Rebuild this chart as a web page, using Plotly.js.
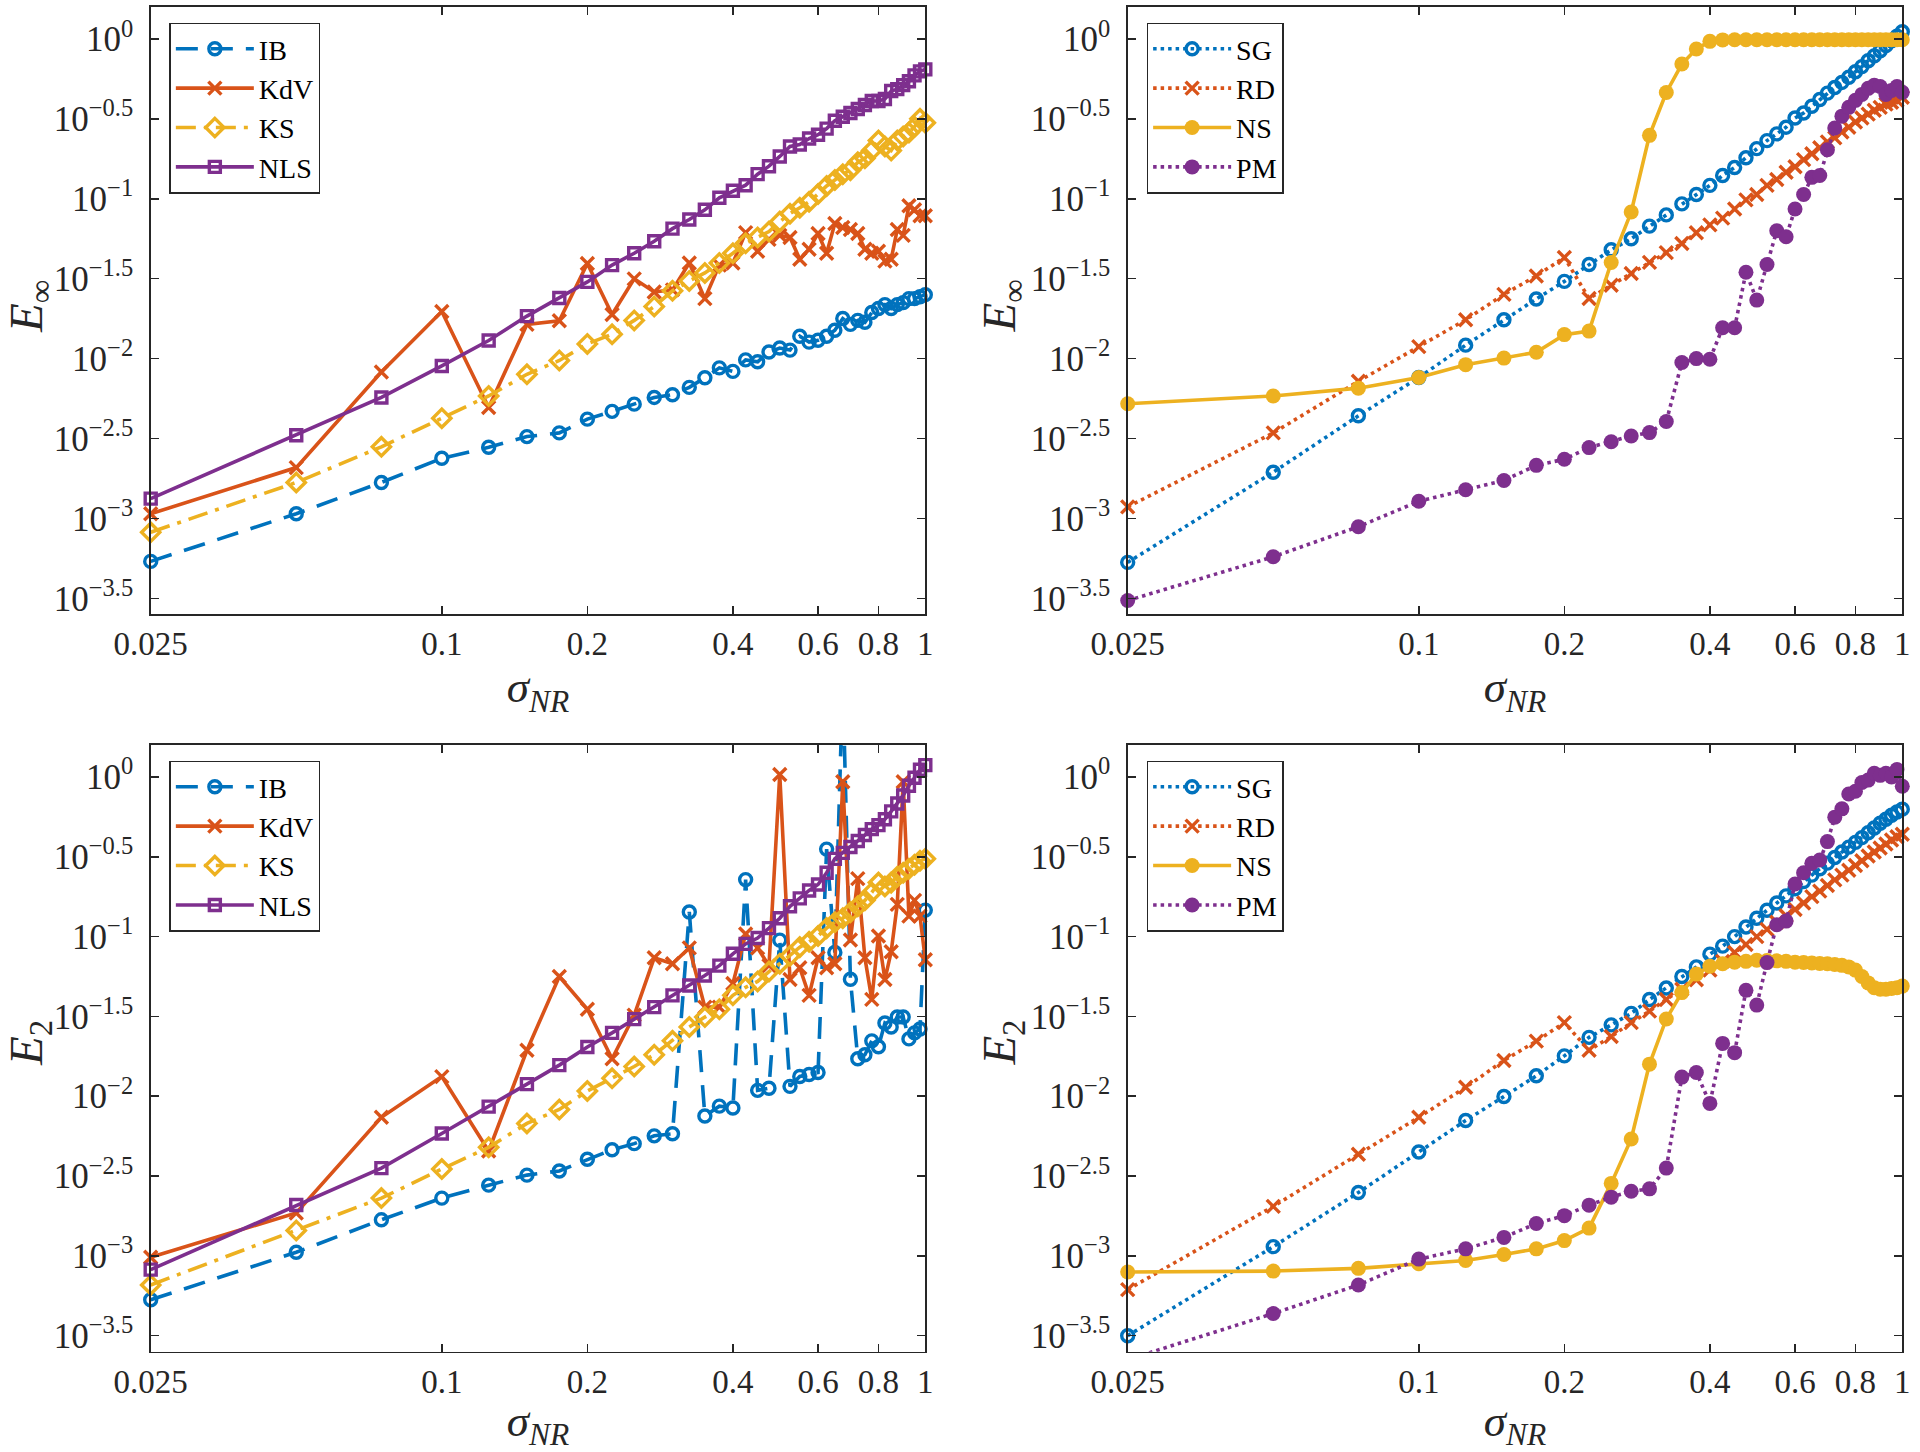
<!DOCTYPE html>
<html>
<head>
<meta charset="utf-8">
<script src="https://cdn.plot.ly/plotly-3.0.1.min.js"></script>
<style>html,body{margin:0;padding:0;background:#fff;}#chart{width:1920px;height:1452px;}</style>
</head>
<body>
<div id="chart"></div>
<script>
// sigma_NR values (x)
const sigmaNR = [0.025,0.05,0.075,0.1,0.125,0.15,0.175,0.2,0.225,0.25,0.275,0.3,0.325,0.35,0.375,0.4,0.425,0.45,0.475,0.5,0.525,0.55,0.575,0.6,0.625,0.65,0.675,0.7,0.725,0.75,0.775,0.8,0.825,0.85,0.875,0.9,0.925,0.95,0.975,1];

// log10 of the errors
// E_inf, left panel
const logEinf_IB  = [-3.269,-2.971,-2.775,-2.624,-2.555,-2.488,-2.465,-2.379,-2.33,-2.285,-2.243,-2.226,-2.18,-2.12,-2.058,-2.08,-2.008,-2.02,-1.959,-1.934,-1.947,-1.86,-1.897,-1.885,-1.86,-1.823,-1.749,-1.786,-1.761,-1.773,-1.712,-1.687,-1.662,-1.687,-1.662,-1.65,-1.625,-1.625,-1.613,-1.60];
const logEinf_KdV = [-2.971,-2.682,-2.084,-1.705,-2.306,-1.786,-1.763,-1.405,-1.724,-1.501,-1.583,-1.57,-1.402,-1.625,-1.415,-1.402,-1.212,-1.328,-1.254,-1.229,-1.242,-1.378,-1.316,-1.217,-1.341,-1.155,-1.18,-1.192,-1.217,-1.316,-1.341,-1.328,-1.39,-1.378,-1.192,-1.229,-1.044,-1.069,-1.106,-1.106];
const logEinf_KS  = [-3.087,-2.775,-2.552,-2.373,-2.234,-2.098,-2.012,-1.908,-1.848,-1.761,-1.674,-1.576,-1.514,-1.464,-1.402,-1.341,-1.279,-1.242,-1.205,-1.143,-1.093,-1.056,-1.019,-0.97,-0.92,-0.883,-0.846,-0.821,-0.772,-0.747,-0.698,-0.636,-0.673,-0.698,-0.636,-0.611,-0.586,-0.549,-0.5,-0.524];
const logEinf_NLS = [-2.876,-2.48,-2.243,-2.046,-1.887,-1.734,-1.621,-1.52,-1.415,-1.341,-1.266,-1.187,-1.13,-1.069,-0.994,-0.95,-0.915,-0.846,-0.796,-0.735,-0.673,-0.66,-0.623,-0.599,-0.561,-0.512,-0.487,-0.463,-0.438,-0.413,-0.388,-0.388,-0.376,-0.326,-0.314,-0.289,-0.265,-0.228,-0.203,-0.19];
// E_inf, right panel
const logEinf_SG  = [-3.275,-2.711,-2.358,-2.118,-1.916,-1.757,-1.627,-1.517,-1.411,-1.319,-1.25,-1.171,-1.101,-1.032,-0.973,-0.916,-0.854,-0.804,-0.743,-0.686,-0.636,-0.594,-0.552,-0.495,-0.463,-0.421,-0.379,-0.339,-0.304,-0.272,-0.24,-0.205,-0.173,-0.136,-0.106,-0.074,-0.042,-0.012,0.017,0.045];
const logEinf_RD  = [-2.928,-2.465,-2.142,-1.925,-1.757,-1.598,-1.483,-1.367,-1.624,-1.541,-1.468,-1.398,-1.337,-1.28,-1.213,-1.163,-1.121,-1.064,-1.007,-0.973,-0.916,-0.879,-0.834,-0.8,-0.755,-0.718,-0.681,-0.644,-0.619,-0.582,-0.552,-0.52,-0.495,-0.47,-0.446,-0.428,-0.408,-0.396,-0.384,-0.365];
const logEinf_NS  = [-2.283,-2.234,-2.185,-2.118,-2.038,-1.997,-1.96,-1.85,-1.828,-1.399,-1.083,-0.603,-0.335,-0.157,-0.063,-0.015,-0.006,-0.005,-0.005,-0.005,-0.005,-0.005,-0.005,-0.005,-0.005,-0.005,-0.005,-0.005,-0.005,-0.005,-0.005,-0.005,-0.005,-0.005,-0.005,-0.005,-0.005,-0.005,-0.005,-0.005];
const logEinf_PM  = [-3.514,-3.24,-3.052,-2.893,-2.821,-2.763,-2.668,-2.63,-2.557,-2.52,-2.484,-2.463,-2.394,-2.024,-2.0,-2.004,-1.807,-1.807,-1.46,-1.634,-1.411,-1.2,-1.238,-1.064,-0.973,-0.866,-0.854,-0.693,-0.557,-0.483,-0.428,-0.384,-0.347,-0.309,-0.29,-0.297,-0.347,-0.322,-0.297,-0.334];
// E_2, left panel
const logE2_IB  = [-3.275,-2.977,-2.774,-2.638,-2.557,-2.494,-2.468,-2.395,-2.335,-2.297,-2.248,-2.235,-0.846,-2.124,-2.062,-2.074,-0.643,-1.963,-1.95,-1.022,-1.938,-1.876,-1.864,-1.851,-0.452,-1.1,0.6,-1.267,-1.765,-1.74,-1.653,-1.69,-1.541,-1.566,-1.504,-1.504,-1.641,-1.603,-1.579,-0.834];
const logE2_KdV = [-3.008,-2.731,-2.132,-1.877,-2.343,-1.712,-1.25,-1.455,-1.765,-1.492,-1.133,-1.17,-1.071,-1.442,-1.442,-1.294,-0.984,-1.071,-1.182,0.015,-1.269,-1.195,-1.368,-1.133,-1.195,-1.17,-0.03,-1.021,-0.637,-1.133,-1.393,-0.996,-1.269,-1.095,-0.798,-0.03,-0.872,-0.773,-0.872,-1.145];
const logE2_KS  = [-3.182,-2.841,-2.638,-2.456,-2.32,-2.17,-2.083,-1.967,-1.888,-1.814,-1.74,-1.653,-1.566,-1.504,-1.455,-1.368,-1.318,-1.281,-1.219,-1.17,-1.12,-1.066,-1.033,-0.996,-0.947,-0.91,-0.885,-0.848,-0.81,-0.773,-0.724,-0.662,-0.686,-0.662,-0.625,-0.6,-0.575,-0.55,-0.525,-0.513];
const logE2_NLS = [-3.086,-2.681,-2.45,-2.233,-2.065,-1.924,-1.805,-1.692,-1.603,-1.517,-1.442,-1.368,-1.306,-1.244,-1.182,-1.108,-1.046,-1.009,-0.947,-0.885,-0.81,-0.761,-0.711,-0.674,-0.6,-0.513,-0.476,-0.439,-0.401,-0.364,-0.327,-0.302,-0.265,-0.216,-0.166,-0.116,-0.055,-0.005,0.045,0.074];
// E_2, right panel
const logE2_SG  = [-3.5,-2.942,-2.603,-2.349,-2.152,-2.002,-1.872,-1.747,-1.631,-1.553,-1.481,-1.394,-1.322,-1.25,-1.19,-1.11,-1.06,-1.0,-0.94,-0.885,-0.835,-0.79,-0.745,-0.70,-0.655,-0.615,-0.575,-0.54,-0.505,-0.47,-0.44,-0.41,-0.38,-0.35,-0.32,-0.29,-0.265,-0.24,-0.22,-0.202];
const logE2_RD  = [-3.211,-2.69,-2.363,-2.132,-1.944,-1.776,-1.655,-1.539,-1.712,-1.626,-1.539,-1.467,-1.394,-1.33,-1.27,-1.21,-1.155,-1.1,-1.05,-1.0,-0.955,-0.91,-0.87,-0.83,-0.79,-0.75,-0.715,-0.68,-0.645,-0.615,-0.585,-0.555,-0.525,-0.495,-0.47,-0.445,-0.42,-0.395,-0.375,-0.359];
const logE2_NS  = [-3.101,-3.095,-3.078,-3.049,-3.029,-2.991,-2.956,-2.904,-2.826,-2.546,-2.268,-1.799,-1.516,-1.351,-1.235,-1.186,-1.17,-1.16,-1.155,-1.148,-1.15,-1.152,-1.155,-1.16,-1.162,-1.165,-1.168,-1.17,-1.175,-1.18,-1.19,-1.21,-1.25,-1.29,-1.32,-1.33,-1.33,-1.325,-1.32,-1.31];
const logE2_PM  = [-3.65,-3.361,-3.182,-3.02,-2.956,-2.884,-2.797,-2.748,-2.682,-2.632,-2.595,-2.58,-2.45,-1.88,-1.851,-2.045,-1.669,-1.727,-1.336,-1.429,-1.163,-0.926,-0.903,-0.671,-0.6,-0.541,-0.52,-0.405,-0.252,-0.2,-0.107,-0.09,-0.035,-0.02,0.023,0.01,0.023,0.0,0.046,-0.058];

// tick labels and axis labels
const xTickVals = [0.025,0.1,0.2,0.4,0.6,0.8,1];
const xTickText = ['0.025','0.1','0.2','0.4','0.6','0.8','1'];
const yTickExp  = [-3.5,-3,-2.5,-2,-1.5,-1,-0.5,0];
const yTickText = ['10<sup>−3.5</sup>','10<sup>−3</sup>','10<sup>−2.5</sup>','10<sup>−2</sup>','10<sup>−1.5</sup>','10<sup>−1</sup>','10<sup>−0.5</sup>','10<sup>0</sup>'];
const xLabel = '<i>σ</i><sub><i>NR</i></sub>';
const yLabelTop = '<i>E</i><sub>∞</sub>', yLabelBottom = '<i>E</i><sub>2</sub>';

const C = {blue:'#0072BD', orange:'#D95319', yellow:'#EDB120', purple:'#7E2F8E'};
const FONT = 'Liberation Serif';
const DASH = '22px,13px', DOT = '3.5px,4px', DASHDOT = '20px,8px,4px,8px';
const LW = 3.6;

const toVal = a => a.map(v => Math.pow(10, v));

function tr(name, logs, color, dash, symbol, msize, xa, ya, leg) {
  const filled = symbol === 'circle';
  return {
    type:'scatter', mode:'lines+markers', name:name, x:sigmaNR, y:toVal(logs),
    xaxis:xa, yaxis:ya, legend:leg, cliponaxis:false,
    line:{color:color, width:LW, dash:dash},
    marker:{symbol:symbol, size:msize, color:color, line:{color:color, width: filled ? 0 : 3.4}}
  };
}

const data = [
  tr('IB',  logEinf_IB,  C.blue,   DASH,    'circle-open',  12, 'x',  'y',  'legend'),
  tr('KdV', logEinf_KdV, C.orange, 'solid', 'x-thin-open',  13, 'x',  'y',  'legend'),
  tr('KS',  logEinf_KS,  C.yellow, DASHDOT, 'diamond-open', 14, 'x',  'y',  'legend'),
  tr('NLS', logEinf_NLS, C.purple, 'solid', 'square-open',  11, 'x',  'y',  'legend'),

  tr('SG',  logEinf_SG,  C.blue,   DOT,     'circle-open',  12, 'x2', 'y2', 'legend2'),
  tr('RD',  logEinf_RD,  C.orange, DOT,     'x-thin-open',  13, 'x2', 'y2', 'legend2'),
  tr('NS',  logEinf_NS,  C.yellow, 'solid', 'circle',       15, 'x2', 'y2', 'legend2'),
  tr('PM',  logEinf_PM,  C.purple, DOT,     'circle',       15, 'x2', 'y2', 'legend2'),

  tr('IB',  logE2_IB,  C.blue,   DASH,    'circle-open',  12, 'x3', 'y3', 'legend3'),
  tr('KdV', logE2_KdV, C.orange, 'solid', 'x-thin-open',  13, 'x3', 'y3', 'legend3'),
  tr('KS',  logE2_KS,  C.yellow, DASHDOT, 'diamond-open', 14, 'x3', 'y3', 'legend3'),
  tr('NLS', logE2_NLS, C.purple, 'solid', 'square-open',  11, 'x3', 'y3', 'legend3'),

  tr('SG',  logE2_SG,  C.blue,   DOT,     'circle-open',  12, 'x4', 'y4', 'legend4'),
  tr('RD',  logE2_RD,  C.orange, DOT,     'x-thin-open',  13, 'x4', 'y4', 'legend4'),
  tr('NS',  logE2_NS,  C.yellow, 'solid', 'circle',       15, 'x4', 'y4', 'legend4'),
  tr('PM',  logE2_PM,  C.purple, DOT,     'circle',       15, 'x4', 'y4', 'legend4')
];

const AX = '#262626';
function xAxis(domain, anchor) {
  return {
    type:'log', range:[Math.log10(0.025), 0], domain:domain, anchor:anchor,
    tickmode:'array', tickvals:xTickVals, ticktext:xTickText,
    ticks:'inside', ticklen:8, tickwidth:1.5, tickcolor:AX,
    showline:true, linecolor:AX, linewidth:1.5, mirror:'ticks',
    showgrid:false, zeroline:false, automargin:false,
    tickfont:{family:FONT, size:33, color:AX},
    title:{text:xLabel, font:{family:FONT, size:45, color:AX}, standoff:8}
  };
}
function yAxis(domain, anchor) {
  return {
    type:'log', range:[-3.6, 0.2], domain:domain, anchor:anchor,
    tickmode:'array', tickvals:yTickExp.map(e => Math.pow(10, e)), ticktext:yTickText,
    ticks:'inside', ticklen:8, tickwidth:1.5, tickcolor:AX,
    showline:true, linecolor:AX, linewidth:1.5, mirror:'ticks',
    showgrid:false, zeroline:false, automargin:false,
    ticklabelstandoff:9,
    tickfont:{family:FONT, size:35, color:AX}
  };
}
function legendAt(x, y) {
  return {
    x:x, y:y, xanchor:'left', yanchor:'top', bgcolor:'#ffffff',
    bordercolor:AX, borderwidth:1.5, font:{family:FONT, size:28, color:'#000'},
    itemwidth:78, tracegroupgap:0
  };
}
function yTitle(text, x, y) {
  return {text:text, xref:'paper', yref:'paper', x:x, y:y, xanchor:'center', yanchor:'middle',
          textangle:-90, showarrow:false, borderpad:0, font:{family:FONT, size:47, color:AX}};
}

const XL = [0.07849, 0.48193], XR = [0.58734, 0.99078];
const YT = [0.57693, 0.99518], YB = [0.06908, 0.48692];

const layout = {
  width:1920, height:1452, margin:{l:0, r:0, t:0, b:0},
  paper_bgcolor:'#ffffff', plot_bgcolor:'#ffffff', showlegend:true,
  font:{family:FONT, color:AX},
  xaxis:xAxis(XL,'y'), yaxis:yAxis(YT,'x'),
  xaxis2:xAxis(XR,'y2'), yaxis2:yAxis(YT,'x2'),
  xaxis3:xAxis(XL,'y3'), yaxis3:yAxis(YB,'x3'),
  xaxis4:xAxis(XR,'y4'), yaxis4:yAxis(YB,'x4'),
  legend:legendAt(0.0882, 0.9845),
  legend2:legendAt(0.5972, 0.9845),
  legend3:legendAt(0.0882, 0.4762),
  legend4:legendAt(0.5972, 0.4762),
  annotations:[
    yTitle(yLabelTop, 0.0156, 0.7893),
    yTitle(yLabelTop, 0.5222, 0.7893),
    yTitle(yLabelBottom, 0.0156, 0.2817),
    yTitle(yLabelBottom, 0.5222, 0.2817)
  ]
};

Plotly.newPlot('chart', data, layout, {staticPlot:true, displayModeBar:false});
</script>
</body>
</html>
